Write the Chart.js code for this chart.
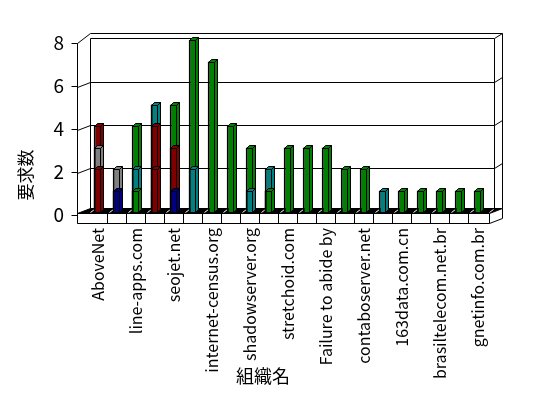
<!DOCTYPE html>
<html>
<head>
<meta charset="utf-8">
<script src="https://cdn.jsdelivr.net/npm/chart.js@4/dist/chart.umd.min.js"></script>
<style>
html, body { margin: 0; background: #fff; }
</style>
</head>
<body>
<canvas id="myChart" width="548" height="398"></canvas>
<script>
// categories (only every other name is legible in the original)
var categories = ['AboveNet', '', 'line-apps.com', '', 'seojet.net', '', 'internet-census.org', '',
    'shadowserver.org', '', 'stretchoid.com', '', 'Failure to abide by', '', 'contaboserver.net', '',
    '163data.com.cn', '', 'brasiltelecom.net.br', '', 'gnetinfo.com.br'];
var yTicks = [0, 2, 4, 6, 8];

// series, back row first
var s1 = [0, 0, 4, 5, 5, 8, 7, 4, 3, 1, 3, 3, 3, 2, 2, 0, 1, 1, 1, 1, 1];
var s2 = [0, 1, 2, 5, 0, 2, 0, 0, 1, 2, 0, 0, 0, 0, 0, 1, 0, 0, 0, 0, 0];
var s3 = [4, 0, 0, 4, 3, 0, 0, 0, 0, 0, 0, 0, 0, 0, 0, 0, 0, 0, 0, 0, 0];
var s4 = [3, 2, 0, 0, 0, 0, 0, 0, 0, 0, 0, 0, 0, 0, 0, 0, 0, 0, 0, 0, 0];
var s5 = [0, 1, 0, 1, 1, 0, 0, 0, 0, 0, 0, 0, 0, 0, 0, 0, 0, 0, 0, 0, 0];
var s6 = [2, 0, 0, 2, 0, 0, 0, 0, 0, 0, 0, 0, 0, 0, 0, 0, 0, 0, 0, 0, 0];
var s7 = [0, 0, 1, 0, 0, 0, 0, 0, 0, 1, 0, 0, 0, 0, 0, 0, 0, 0, 0, 0, 0];
var s8 = [0, 0, 1, 0, 0, 0, 0, 0, 0, 1, 0, 0, 0, 0, 0, 0, 0, 0, 0, 0, 0];
var seriesData = [s1, s2, s3, s4, s5, s6, s7, s8];
var seriesColors = ['#008000', '#008080', '#800000', '#808080', '#000080', '#800000', '#000000', '#008000'];

var FONT = '"Noto Sans CJK JP", "Liberation Sans", sans-serif';
var DX = 3, DY = 3;          // bar depth
var WX = 13, WY = 5;         // wall depth

var datasets = seriesData.map(function (d, i) {
    return {
        label: '系列' + (i + 1),
        data: d,
        grouped: false,
        order: 20 - i,
        backgroundColor: seriesColors[i],
        borderColor: '#000',
        borderWidth: { top: 1, right: 1, left: 2, bottom: 0 },
        categoryPercentage: 1,
        barPercentage: 0.4
    };
});

function poly(ctx, pts, fill) {
    ctx.beginPath();
    ctx.moveTo(pts[0][0], pts[0][1]);
    for (var i = 1; i < pts.length; i++) ctx.lineTo(pts[i][0], pts[i][1]);
    ctx.closePath();
    if (fill) { ctx.fillStyle = fill; ctx.fill(); }
    ctx.stroke();
}
function line(ctx, x1, y1, x2, y2) {
    ctx.beginPath(); ctx.moveTo(x1, y1); ctx.lineTo(x2, y2); ctx.stroke();
}

var walls = {
    id: 'walls',
    beforeDatasetsDraw: function (chart) {
        var ctx = chart.ctx, a = chart.chartArea, y = chart.scales.y;
        var fl = a.left - 11, fr = a.right + 2;        // front edges
        var bl = fl + WX, br = fr + WX;                 // back edges
        var yb0 = y.getPixelForValue(0) - 4, yb8 = y.getPixelForValue(8) - 2;
        var yf0 = yb0 + WY;
        ctx.save();
        ctx.strokeStyle = '#000';
        ctx.lineWidth = 1;
        ctx.translate(0.5, 0.5);
        // outer rim of the walls
        line(ctx, fl, yb8 + WY, bl, yb8 - 5);
        line(ctx, bl, yb8 - 5, br, yb8 - 5);
        line(ctx, br, yb8 - 5, br, yb0);
        // back wall
        line(ctx, bl, yb8, br - 8, yb8);
        line(ctx, br - 8, yb8, br - 8, yb0);
        line(ctx, bl, yb8, bl, yb0);
        line(ctx, br - 8, yb8, br, yb8 - 5);
        // gridlines on back + side walls
        yTicks.forEach(function (v) {
            var yy = y.getPixelForValue(v) - 1;
            if (v > 0 && v < 8) {
                line(ctx, bl, yy, br - 8, yy);
                line(ctx, fl, yy + WY, bl, yy);
                line(ctx, br - 8, yy, br, yy - 5);
            }
            line(ctx, fl - 6, yy + WY - 1, fl, yy + WY - 1);
        });
        line(ctx, fl, yb8 + WY, fl, yf0 + 10);
        // floor top
        poly(ctx, [[fl, yf0], [fr, yf0], [br, yb0], [bl, yb0]], '#000');
        ctx.strokeStyle = '#fff';
        for (var k = 0; k <= categories.length; k++) {
            var xx = a.left + k * (a.right - a.left) / categories.length;
            line(ctx, xx + 2, yf0 - 1, xx + 6, yb0 + 1);
        }
        // floor front face
        ctx.strokeStyle = '#000';
        poly(ctx, [[fl, yf0], [fr, yf0], [fr, yf0 + 10], [fl, yf0 + 10]], '#fff');
        poly(ctx, [[fr, yf0], [br, yb0], [br, yb0 + 10], [fr, yf0 + 10]], '#fff');
        for (k = 1; k < categories.length; k++) {
            var tx = Math.round(a.left + k * (a.right - a.left) / categories.length);
            line(ctx, tx, yf0, tx, yf0 + 10);
        }
        ctx.restore();
    },
    afterDatasetDraw: function (chart, args) {
        var ctx = chart.ctx, ds = chart.data.datasets[args.index];
        ctx.save();
        ctx.strokeStyle = '#000';
        ctx.lineWidth = 1;
        args.meta.data.forEach(function (bar, i) {
            if (!ds.data[i]) return;
            var p = bar.getProps(['x', 'y', 'base', 'width'], true);
            var l = Math.round(p.x - p.width / 2) + 0.5, r = Math.round(p.x + p.width / 2) - 0.5;
            var t = Math.round(p.y) + 0.5, b = Math.round(p.base) + 0.5;
            poly(ctx, [[r, t], [r + DX, t - DY], [r + DX, b - DY], [r, b]], ds.backgroundColor);
            poly(ctx, [[l, t], [r, t], [r + DX, t - DY], [l + DX, t - DY]], ds.backgroundColor);
        });
        ctx.restore();
    },
    afterDraw: function (chart) {
        var ctx = chart.ctx;
        ctx.save();
        ctx.fillStyle = '#000';
        ctx.textAlign = 'center';
        ctx.textBaseline = 'middle';
        ctx.font = '18px ' + FONT;
        ctx.fillText('組織名', 263, 376);
        ctx.translate(26, 175);
        ctx.rotate(-Math.PI / 2);
        ctx.font = '17px ' + FONT;
        ctx.fillText('要求数', 0, 0);
        ctx.restore();
    }
};

var ctx = document.getElementById('myChart').getContext('2d');
var myChart = new Chart(ctx, {
    type: 'bar',
    data: { labels: categories, datasets: datasets },
    options: {
        responsive: false,
        animation: false,
        layout: { padding: { top: 40, right: 61, left: 0, bottom: 0 } },
        plugins: { legend: { display: false }, tooltip: { enabled: false } },
        scales: {
            x: {
                grid: { display: false, drawTicks: false },
                border: { display: false },
                ticks: { autoSkip: false, maxRotation: 90, minRotation: 90, padding: 16, color: '#000',
                    font: { family: FONT, size: 16 } },
                afterFit: function (s) { s.height = 186; }
            },
            y: {
                min: 0, max: 8,
                afterBuildTicks: function (s) { s.ticks = yTicks.map(function (v) { return { value: v }; }); },
                grid: { display: false, drawTicks: false },
                border: { display: false },
                ticks: { padding: 24, labelOffset: 3, color: '#000', font: { family: FONT, size: 19 } },
                afterFit: function (s) { s.width = 88; }
            }
        }
    },
    plugins: [walls]
});
</script>
</body>
</html>
